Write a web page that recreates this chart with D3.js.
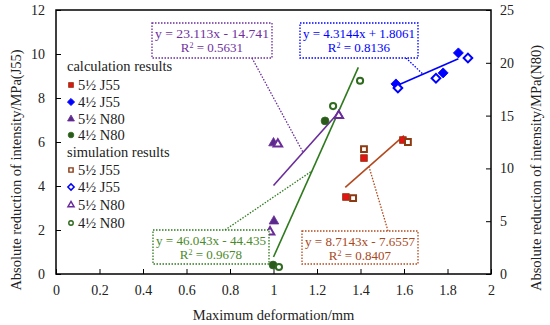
<!DOCTYPE html>
<html>
<head>
<meta charset="utf-8">
<script src="https://cdn.jsdelivr.net/npm/d3@7"></script>
<style>
	body { margin: 0; background: #fff; }
	svg text { font-family: "Liberation Serif", "Times New Roman", serif; }
</style>
</head>
<body>
<svg id="chart" width="550" height="325"></svg>
<script>

// Axis ticks
var xTicks = [0, 0.2, 0.4, 0.6, 0.8, 1, 1.2, 1.4, 1.6, 1.8, 2];
var yLeftTicks = [0, 2, 4, 6, 8, 10, 12];
var yRightTicks = [0, 5, 10, 15, 20, 25];

// 5½ J55 (left axis)
var calcJ55a_x = [1.333, 1.416, 1.595];
var calcJ55a_y = [3.5, 5.27, 6.09];
var simJ55a_x = [1.366, 1.416, 1.618];
var simJ55a_y = [3.45, 5.68, 6.0];

// 4½ J55 (left axis)
var calcJ55b_x = [1.563, 1.78, 1.85];
var calcJ55b_y = [8.64, 9.14, 10.05];
var simJ55b_x = [1.572, 1.747, 1.894];
var simJ55b_y = [8.45, 8.9, 9.82];

// 5½ N80 (right axis)
var calcN80a_x = [1.002, 1.0, 1.3];
var calcN80a_y = [5.0, 12.4, 15.0];
var simN80a_x = [0.984, 1.02, 1.3];
var simN80a_y = [3.98, 12.3, 15.0];

// 4½ N80 (right axis)
var calcN80b_x = [0.998, 1.237];
var calcN80b_y = [0.85, 14.5];
var simN80b_x = [1.025, 1.274, 1.398];
var simN80b_y = [0.66, 15.9, 18.3];

// Trend lines: 5½ N80, 4½ J55, 4½ N80, 5½ J55
var fitNames = ['N80a', 'J55b', 'N80b', 'J55a'];
var fitSlope = [23.113, 4.3144, 46.043, 8.7143];
var fitIntercept = [-14.741, 1.8061, -44.435, -7.6557];
var fitR2 = ['0.5631', '0.8136', '0.9678', '0.8407'];
var fitStart = [1.0, 1.563, 1.0, 1.33];
var fitEnd = [1.29, 1.85, 1.39, 1.6];
var fitLabels = ['y = 23.113x - 14.741', 'y = 4.3144x + 1.8061', 'y = 46.043x - 44.435', 'y = 8.7143x - 7.6557'];
var fitLeaderX = [1.136, 1.687, 1.177, 1.439];

var colors = {
	J55a: { fill: '#e41414', stroke: '#8b3a12', line: '#b24a1e', text: '#a8481c' },
	J55b: { fill: '#0000ff', stroke: '#0000ff', line: '#0000ff', text: '#0000ff' },
	N80a: { fill: '#5a2a8a', stroke: '#6a2c9a', line: '#6a2c9a', text: '#7030a0' },
	N80b: { fill: '#2b5a1a', stroke: '#2f6a1e', line: '#2f7a1e', text: '#4a8a2a' }
};

var margin = { top: 10, right: 59, bottom: 51, left: 56 };
var width = 550 - margin.left - margin.right;
var height = 325 - margin.top - margin.bottom;

var svg = d3.select('#chart');
var g = svg.append('g').attr('transform', 'translate(' + margin.left + ',' + margin.top + ')');

var x = d3.scaleLinear().domain([0, 2]).range([0, width]);
var yL = d3.scaleLinear().domain([0, 12]).range([height, 0]);
var yR = d3.scaleLinear().domain([0, 25]).range([height, 0]);

// Axes, ticks drawn inward
var xAxis = g.append('g').attr('transform', 'translate(0,' + height + ')')
	.call(d3.axisBottom(x).tickValues(xTicks).tickSizeInner(-5).tickSizeOuter(0).tickPadding(11).tickFormat(d3.format('')));
var yAxisL = g.append('g')
	.call(d3.axisLeft(yL).tickValues(yLeftTicks).tickSizeInner(-5).tickSizeOuter(0).tickPadding(11));
var yAxisR = g.append('g').attr('transform', 'translate(' + width + ',0)')
	.call(d3.axisRight(yR).tickValues(yRightTicks).tickSizeInner(-5).tickSizeOuter(0).tickPadding(9));

[xAxis, yAxisL, yAxisR].forEach(function (a) {
	a.selectAll('text').style('font-size', '14px').attr('fill', '#222');
	a.selectAll('line').attr('stroke', '#000');
	a.select('.domain').remove();
});

g.append('rect')
	.attr('width', width).attr('height', height)
	.attr('fill', 'none').attr('stroke', '#000').attr('stroke-width', 1.5);

// Axis titles
svg.append('text')
	.attr('transform', 'translate(21,170) rotate(-90)')
	.attr('text-anchor', 'middle').style('font-size', '14.5px').attr('fill', '#222')
	.text('Absolute reduction of intensity/MPa(J55)');
svg.append('text')
	.attr('transform', 'translate(541,168) rotate(-90)')
	.attr('text-anchor', 'middle').style('font-size', '14.5px').attr('fill', '#222')
	.text('Absolute reduction of intensity/MPa(N80)');
svg.append('text')
	.attr('x', margin.left + width / 2).attr('y', 320)
	.attr('text-anchor', 'middle').style('font-size', '14.5px').attr('fill', '#222')
	.text('Maximum deformation/mm');

// Trend lines
fitNames.forEach(function (name, i) {
	var ys = name.indexOf('N80') === 0 ? yR : yL;
	var f = function (v) { return fitSlope[i] * v + fitIntercept[i]; };
	g.append('line')
		.attr('x1', x(fitStart[i])).attr('y1', ys(f(fitStart[i])))
		.attr('x2', x(fitEnd[i])).attr('y2', ys(f(fitEnd[i])))
		.attr('stroke', colors[name].line).attr('stroke-width', 1.6);
});

// Marker shapes, k scales the size (legend markers are smaller)
function marker(sel, shape, c, open, k) {
	k = k || 1;
	sel.each(function () {
		var s = d3.select(this);
		var p;
		if (shape === 'square') {
			p = s.append('path').attr('d', d3.symbol(d3.symbolSquare, (open ? 34 : 46) * k * k));
		} else if (shape === 'diamond') {
			p = s.append('path').attr('d', d3.symbol(d3.symbolSquare, (open ? 38 : 50) * k * k))
				.attr('transform', 'rotate(45)');
		} else if (shape === 'triangle') {
			p = s.append('path').attr('d', d3.symbol(d3.symbolTriangle, (open ? 32 : 40) * k * k));
		} else {
			p = s.append('path').attr('d', d3.symbol(d3.symbolCircle, (open ? 30 : 48) * k * k));
		}
		p.attr('fill', open ? '#fff' : c.fill)
			.attr('stroke', c.stroke)
			.attr('stroke-width', open ? 2 * k : 0.8);
	});
}

function drawSeries(xs, ys, scale, shape, c, open) {
	var pts = xs.map(function (v, i) { return [v, ys[i]]; });
	var sel = g.append('g').selectAll('g')
		.data(pts).enter().append('g')
		.attr('transform', function (d) { return 'translate(' + x(d[0]) + ',' + scale(d[1]) + ')'; });
	marker(sel, shape, c, open);
}

drawSeries(calcJ55a_x, calcJ55a_y, yL, 'square', colors.J55a, false);
drawSeries(simJ55a_x, simJ55a_y, yL, 'square', colors.J55a, true);
drawSeries(calcJ55b_x, calcJ55b_y, yL, 'diamond', colors.J55b, false);
drawSeries(simJ55b_x, simJ55b_y, yL, 'diamond', colors.J55b, true);
drawSeries(calcN80a_x, calcN80a_y, yR, 'triangle', colors.N80a, false);
drawSeries(simN80a_x, simN80a_y, yR, 'triangle', colors.N80a, true);
drawSeries(calcN80b_x, calcN80b_y, yR, 'circle', colors.N80b, false);
drawSeries(simN80b_x, simN80b_y, yR, 'circle', colors.N80b, true);

// Equation callouts (box position in pixels of the page)
var boxes = [
	{ x: 152, y: 23, w: 120, h: 35, ax: 252, ay: 58 },
	{ x: 300, y: 23, w: 118, h: 35, ax: 406, ay: 58 },
	{ x: 153, y: 230, w: 116, h: 34, ax: 225, ay: 230 },
	{ x: 302, y: 231, w: 116, h: 33, ax: 388, ay: 231 }
];

fitNames.forEach(function (name, i) {
	var b = boxes[i];
	var c = colors[name];
	var ys = name.indexOf('N80') === 0 ? yR : yL;
	var lx = fitLeaderX[i];
	var ly = fitSlope[i] * lx + fitIntercept[i];
	svg.append('line')
		.attr('x1', b.ax).attr('y1', b.ay)
		.attr('x2', margin.left + x(lx)).attr('y2', margin.top + ys(ly))
		.attr('stroke', c.line).attr('stroke-width', 1.3).attr('stroke-dasharray', '1.5,1.5');
	svg.append('rect')
		.attr('x', b.x).attr('y', b.y).attr('width', b.w).attr('height', b.h)
		.attr('fill', '#fff').attr('stroke', c.line).attr('stroke-width', 1.3)
		.attr('stroke-dasharray', '1.5,1.5');
	svg.append('text')
		.attr('x', b.x + b.w / 2).attr('y', b.y + 15)
		.attr('text-anchor', 'middle').style('font-size', '13px').attr('fill', c.text)
		.attr('textLength', b.w - 6).attr('lengthAdjust', 'spacingAndGlyphs')
		.text(fitLabels[i]);
	var t = svg.append('text')
		.attr('x', b.x + b.w / 2).attr('y', b.y + 29)
		.attr('text-anchor', 'middle').style('font-size', '13px').attr('fill', c.text);
	t.append('tspan').text('R');
	t.append('tspan').attr('dy', -4).style('font-size', '8px').text('2');
	t.append('tspan').attr('dy', 4).text(' = ' + fitR2[i]);
});

// Legend
var legendNames = ['5\u00bd J55', '4\u00bd J55', '5\u00bd N80', '4\u00bd N80'];
var legendKeys = ['J55a', 'J55b', 'N80a', 'N80b'];
var legendShapes = ['square', 'diamond', 'triangle', 'circle'];
var legend = svg.append('g');

legend.append('text').attr('x', 67).attr('y', 71).style('font-size', '14.5px').attr('fill', '#222')
	.text('calculation results');
legend.append('text').attr('x', 67).attr('y', 157).style('font-size', '14.5px').attr('fill', '#222')
	.text('simulation results');

var rowsY = [[85, 102, 119, 135], [170, 187, 205, 223]];
[false, true].forEach(function (open, k) {
	legendNames.forEach(function (name, i) {
		var row = legend.append('g').attr('transform', 'translate(71,' + rowsY[k][i] + ')');
		marker(row, legendShapes[i], colors[legendKeys[i]], open, 0.72);
		row.append('text').attr('x', 7).attr('y', 5).style('font-size', '14.5px').attr('fill', '#222')
			.text(name);
	});
});

</script>
</body>
</html>
